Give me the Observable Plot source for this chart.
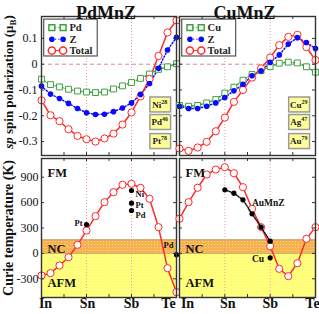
<!DOCTYPE html>
<html><head><meta charset="utf-8">
<script src="https://cdn.jsdelivr.net/npm/d3@7"></script>
<script src="https://cdn.jsdelivr.net/npm/@observablehq/plot@0.6"></script>
<style>
body{margin:0;background:#fff;}
#chart{position:relative;width:319px;height:314px;overflow:hidden;background:#fff;}
#chart svg{position:absolute;overflow:visible;background:transparent;max-width:none;}
</style></head><body><div id="chart"></div>
<script>
// ---- data ----
const xLabels = ["In","Sn","Sb","Te"];
const xLabelIdx = [0,5,10,15];
const pdSpin      = [-0.058,-0.079,-0.088,-0.097,-0.104,-0.108,-0.110,-0.108,-0.096,-0.084,-0.071,-0.055,-0.038,-0.020,-0.010,0.002];
const zSpinPd     = [-0.085,-0.116,-0.133,-0.152,-0.172,-0.188,-0.195,-0.194,-0.184,-0.170,-0.150,-0.117,-0.075,-0.016,0.055,0.104];
const totalSpinPd = [-0.140,-0.198,-0.221,-0.252,-0.278,-0.291,-0.300,-0.288,-0.269,-0.234,-0.187,-0.125,-0.057,0.032,0.123,0.170];
const cuSpin      = [-0.160,-0.163,-0.160,-0.150,-0.137,-0.112,-0.089,-0.062,-0.040,-0.025,-0.009,0.004,0.008,0.005,-0.010,-0.031];
const zSpinCu     = [-0.163,-0.172,-0.172,-0.163,-0.150,-0.129,-0.103,-0.078,-0.045,-0.026,0.007,0.036,0.078,0.103,0.084,0.061];
const totalSpinCu = [-0.327,-0.336,-0.323,-0.301,-0.260,-0.207,-0.146,-0.100,-0.052,-0.016,0.026,0.074,0.106,0.114,0.066,0.016];
const tcPd = [-261,-233,-143,-45,101,270,440,605,723,810,822,775,645,310,-175,-458];
const tcCu = [409,605,775,932,991,1018,947,782,527,310,85,-182,-269,-116,172,310];
const expPdX = [5,10,10,10,15];
const expPdY = [341,743,593,507,-15];
const expPdLab = ["Pt","Ni","Pt","Pd","Pd"];
const expAuX = [5,6,7,8,9,10];
const expAuY = [751,711,633,468,310,144];
const expCuX = [10];
const expCuY = [-52];
const elemsPd = ["Ni^28","Pd^46","Pt^78"];
const elemsCu = ["Cu^29","Ag^47","Au^79"];
const namesPd = ["Pd","Z","Total"];
const namesCu = ["Cu","Z","Total"];
const spinTicks = [-0.3,-0.2,-0.1,0,0.1];
const tcTicks = [-300,0,300,600,900];
const ncRange = [0,160];
const regions = ["FM","NC","AFM"];
const titles = ["PdMnZ","CuMnZ"];
const spinLabel = "sp spin polarization (μB)";
const tcLabel = "Curie temperature (K)";

// ---- style ----
const FONT = '"Liberation Serif","Times New Roman",serif';
const GREEN = "#3f9f3f", BLUE = "#0a0aff", RED = "#ff2a2a";
const SPIN_DOMAIN = [-0.354, 0.185];
const TC_DOMAIN = [-521, 1121];
const idx = d3.range(16);
const chart = document.getElementById("chart");
const NS = "http://www.w3.org/2000/svg";

chart.insertAdjacentHTML("beforeend", `<svg width="0" height="0" style="position:absolute;left:0;top:0">
<defs>
<pattern id="pOr" width="3" height="3" patternUnits="userSpaceOnUse"><rect width="3" height="3" fill="#f6b24e"/><circle cx="1.5" cy="1.5" r="0.6" fill="#fcd894"/></pattern>
<pattern id="pYel" width="3" height="3" patternUnits="userSpaceOnUse"><rect width="3" height="3" fill="#ffff74"/><circle cx="1.5" cy="1.5" r="0.6" fill="#ffffc8"/></pattern>
</defs></svg>`);

// rotate axis titles, add sub/superscripts
function post(svg, labelPos){
  svg.querySelectorAll("text").forEach(t=>{
    const s = t.textContent;
    if (s.includes("^")) {
      const [b, sup] = s.split("^");
      t.textContent = b;
      const ts = document.createElementNS(NS,"tspan");
      ts.setAttribute("dy","-4"); ts.setAttribute("font-size","6"); ts.textContent = sup;
      t.append(ts);
    } else if ((s === spinLabel || s === tcLabel) && labelPos) {
      if (t.parentNode && t.parentNode.removeAttribute) t.parentNode.removeAttribute("transform");
      t.removeAttribute("x"); t.removeAttribute("y"); t.removeAttribute("dx");
      t.setAttribute("text-anchor","middle");
      t.setAttribute("dy","0.35em");
      t.setAttribute("transform", `translate(${labelPos[0]},${labelPos[1]}) rotate(-90)`);
      if (s === spinLabel) {
        t.textContent = "";
        const a = document.createElementNS(NS,"tspan"); a.setAttribute("font-style","italic"); a.textContent="sp";
        t.append(a);
        t.append(document.createTextNode(" spin polarization (μ"));
        const b = document.createElementNS(NS,"tspan"); b.setAttribute("font-size","9"); b.setAttribute("dy","3"); b.textContent="B";
        t.append(b);
        const c = document.createElementNS(NS,"tspan"); c.setAttribute("dy","-3"); c.textContent=")";
        t.append(c);
      }
    }
  });
}

function place(svg, left, top, labelPos){
  svg.style.left = left+"px"; svg.style.top = top+"px";
  chart.append(svg); post(svg, labelPos);
}

function frameMarks(yDom, xLen, yLen, yTicks){
  const xt = d3.range(0, 15.01, 2.5);
  return [
    Plot.ruleX(xt, {y1: yDom[0], y2: yDom[0]+xLen, stroke:"#333"}),
    Plot.ruleX(xt, {y1: yDom[1], y2: yDom[1]-xLen, stroke:"#333"}),
    Plot.ruleY(yTicks, {x1: 0, x2: yLen, stroke:"#333"}),
    Plot.ruleY(yTicks, {x1: 15, x2: 15-yLen, stroke:"#333"}),
    Plot.frame({stroke:"#333", strokeWidth:1.4})
  ];
}

function spinPanel(o){
  const rows = idx.map(i => ({i, a:o.a[i], z:o.z[i], t:o.t[i]}));
  const boxCy = [-0.158,-0.226,-0.300], boxH = 0.029;
  const legY = [0.142,0.097,0.053];
  const lx = [1.15,2.4];
  const marks = [
    Plot.ruleY([0], {stroke:"#c9807a", strokeDasharray:"4,3", strokeWidth:0.9}),
    Plot.ruleX([5,10], {stroke:"#eaa0a6", strokeDasharray:"1,2"}),
    Plot.line(rows, {x:"i", y:"a", stroke:GREEN, strokeDasharray:"1.2,2"}),
    Plot.line(rows, {x:"i", y:"z", stroke:BLUE, strokeDasharray:"1.2,2"}),
    Plot.line(rows, {x:"i", y:"t", stroke:RED}),
    Plot.dot(rows, {x:"i", y:"a", symbol:"square", r:3.3, stroke:GREEN, fill:"white", strokeWidth:1}),
    Plot.dot(rows, {x:"i", y:"t", r:3.6, stroke:RED, fill:"white", strokeWidth:1}),
    Plot.dot(rows, {x:"i", y:"z", r:2.8, fill:BLUE}),
    // legend
    Plot.rect([0], {x1:0.3, x2:6.25, y1:0.030, y2:0.173, fill:"white", stroke:"#555", strokeWidth:1.2}),
    Plot.link([0], {x1:lx[0], x2:lx[1], y1:legY[0], y2:legY[0], stroke:GREEN, strokeDasharray:"1.2,2"}),
    Plot.link([0], {x1:lx[0], x2:lx[1], y1:legY[1], y2:legY[1], stroke:BLUE, strokeDasharray:"1.2,2"}),
    Plot.link([0], {x1:lx[0], x2:lx[1], y1:legY[2], y2:legY[2], stroke:RED}),
    Plot.dot(lx, {x:d=>d, y:()=>legY[0], symbol:"square", r:3.3, stroke:GREEN, fill:"white"}),
    Plot.dot(lx, {x:d=>d, y:()=>legY[1], r:2.8, fill:BLUE}),
    Plot.dot(lx, {x:d=>d, y:()=>legY[2], r:3.6, stroke:RED, fill:"white"}),
    Plot.text(o.names, {x:3.1, y:(d,i)=>legY[i], text:d=>d, textAnchor:"start", fontSize:10.5, fontWeight:"bold", fill:"#222"}),
    // element boxes
    Plot.rect(o.elems, {x1:12.1, x2:14.4, y1:(d,i)=>boxCy[i]-boxH, y2:(d,i)=>boxCy[i]+boxH, fill:"#ffff99", stroke:"#9a9a9a", strokeWidth:1.5}),
    Plot.text(o.elems, {x:13.15, y:(d,i)=>boxCy[i], text:d=>d, fontSize:9, fontWeight:"bold", fill:"#222"}),
    ...frameMarks(SPIN_DOMAIN, 0.0116, 0.33, spinTicks),
    Plot.text([o.title], {frameAnchor:"top", dy:-10.5, dx:-3, text:d=>d, fontSize:18, fontWeight:"bold", fill:"#111"})
  ];
  if (o.showY) {
    marks.push(Plot.axisY(spinTicks, {anchor:"left", tickSize:0, tickPadding:4, tickFormat:d=>String(d), fontSize:12, label:null}));
    marks.push(Plot.text([spinLabel], {frameAnchor:"left", text:d=>d, fontSize:13, fontWeight:"bold", fill:"#111"}));
  }
  return Plot.plot({
    width:o.width, height:156, marginLeft:o.mL, marginRight:o.mR, marginTop:16, marginBottom:1,
    x:{domain:[0,15], axis:null},
    y:{domain:SPIN_DOMAIN, axis:o.showY?undefined:null},
    style:{fontFamily:FONT, fontSize:"12px", background:"transparent", overflow:"visible", color:"#111"},
    marks
  });
}

function tcPanel(o){
  const rows = idx.map(i => ({i, t:o.t[i]}));
  const marks = [
    Plot.rect([0], {x1:0, x2:15, y1:TC_DOMAIN[0], y2:ncRange[0], fill:"url(#pYel)"}),
    Plot.rect([0], {x1:0, x2:15, y1:ncRange[0], y2:ncRange[1], fill:"url(#pOr)"}),
    Plot.ruleY(ncRange, {stroke:"#b8966a", strokeWidth:0.8}),
    Plot.ruleX([5,10], {stroke:"#eaa0a6", strokeDasharray:"1,2"}),
    Plot.line(rows, {x:"i", y:"t", stroke:RED}),
    Plot.dot(rows, {x:"i", y:"t", r:3.6, stroke:RED, fill:"white", strokeWidth:1}),
    ...o.extra,
    Plot.text([regions[0]], {frameAnchor:"top-left", dx:6, dy:10, text:d=>d, textAnchor:"start", fontSize:12.5, fontWeight:"bold", fill:"#111"}),
    Plot.text([regions[1]], {frameAnchor:"left", y:()=>(ncRange[0]+ncRange[1])/2, dx:6, dy:2, text:d=>d, textAnchor:"start", fontSize:12.5, fontWeight:"bold", fill:"#111"}),
    Plot.text([regions[2]], {frameAnchor:"bottom-left", dx:6, dy:-10.5, text:d=>d, textAnchor:"start", fontSize:12.5, fontWeight:"bold", fill:"#111"}),
    ...frameMarks(TC_DOMAIN, 35, 0.33, tcTicks),
    ...xLabels.map((l,i)=>Plot.text([l], {x:()=>xLabelIdx[i], frameAnchor:"bottom", dy:10, dx:o.xdx[i], text:d=>d, fontSize:14, fontWeight:"bold", fill:"#111"}))
  ];
  if (o.showY) {
    marks.push(Plot.axisY(tcTicks, {anchor:"left", tickSize:0, tickPadding:3, tickFormat:d=>String(d), fontSize:12, label:null}));
    marks.push(Plot.text([tcLabel], {frameAnchor:"left", text:d=>d, fontSize:14, fontWeight:"bold", fill:"#111"}));
  }
  return Plot.plot({
    width:o.width, height:158, marginLeft:o.mL, marginRight:o.mR, marginTop:2, marginBottom:17,
    x:{domain:[0,15], axis:null},
    y:{domain:TC_DOMAIN, axis:o.showY?undefined:null},
    style:{fontFamily:FONT, fontSize:"12px", background:"transparent", overflow:"visible", color:"#111"},
    marks
  });
}

// experimental points
const expPd = expPdX.map((x,i)=>({x, y:expPdY[i], lab:expPdLab[i]}));
const pdOff = [[-4,-1,"end"],[4,4,"start"],[4,2,"start"],[4,5,"start"],[-3,-9,"end"]];
const extraPd = [
  Plot.dot(expPd, {x:"x", y:"y", r:2.6, fill:"black"}),
  ...expPd.map((d,i)=>Plot.text([d], {x:"x", y:"y", text:"lab", dx:pdOff[i][0], dy:pdOff[i][1], textAnchor:pdOff[i][2], fontSize:8.5, fontWeight:"bold", fill:"#111"}))
];
const expAu = expAuX.map((x,i)=>({x, y:expAuY[i]}));
const expCu = expCuX.map((x,i)=>({x, y:expCuY[i]}));
const extraCu = [
  Plot.line(expAu, {x:"x", y:"y", stroke:"#111", strokeDasharray:"1,1.5"}),
  Plot.dot(expAu, {x:"x", y:"y", r:2.6, fill:"black"}),
  Plot.dot(expCu, {x:"x", y:"y", r:2.6, fill:"black"}),
  Plot.text([expAu[2]], {x:"x", y:"y", text:()=>"AuMnZ", dx:9, dy:3, textAnchor:"start", fontSize:9.5, fontWeight:"bold", fill:"#111"}),
  Plot.text(expCu, {x:"x", y:"y", text:()=>"Cu", dx:-6, dy:1, textAnchor:"end", fontSize:9.5, fontWeight:"bold", fill:"#111"})
];

place(spinPanel({a:pdSpin, z:zSpinPd, t:totalSpinPd, names:namesPd, elems:elemsPd, title:titles[0], showY:true, width:177, mL:41, mR:1}), 0, 0, [8, 82]);
place(spinPanel({a:cuSpin, z:zSpinCu, t:totalSpinCu, names:namesCu, elems:elemsCu, title:titles[1], showY:false, width:142, mL:2, mR:4}), 177, 0, null);
place(tcPanel({t:tcPd, extra:extraPd, showY:true, width:177, mL:41, mR:1, xdx:[4,1,0,-8]}), 0, 156, [8, 72]);
place(tcPanel({t:tcCu, extra:extraCu, showY:false, width:142, mL:2, mR:4, xdx:[8,3,0,-3]}), 177, 156, null);
</script></body></html>
